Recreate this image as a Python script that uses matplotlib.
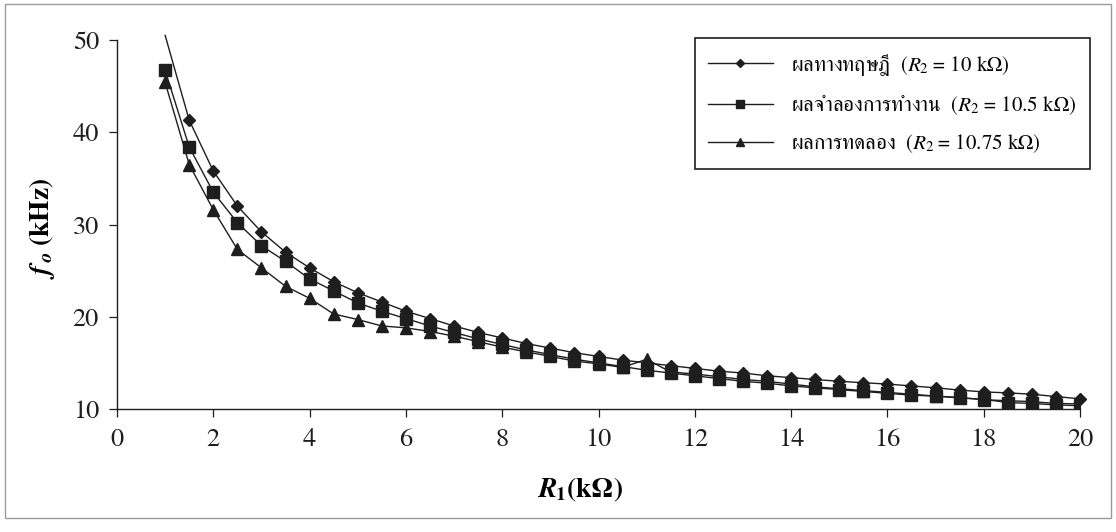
import matplotlib
matplotlib.use("Agg")
import matplotlib.pyplot as plt
from matplotlib.patches import Rectangle

# R1 values (kOhm)
r1 = [1.0, 1.5, 2.0, 2.5, 3.0, 3.5, 4.0, 4.5, 5.0, 5.5, 6.0, 6.5, 7.0, 7.5,
      8.0, 8.5, 9.0, 9.5, 10.0, 10.5, 11.0, 11.5, 12.0, 12.5, 13.0, 13.5,
      14.0, 14.5, 15.0, 15.5, 16.0, 16.5, 17.0, 17.5, 18.0, 18.5, 19.0,
      19.5, 20.0]

# f0 (kHz)
f_theory = [50.5, 41.3, 35.8, 32.0, 29.2, 27.0, 25.3, 23.8, 22.6, 21.6,
            20.6, 19.8, 19.0, 18.3, 17.7, 17.1, 16.6, 16.1, 15.7, 15.3,
            15.0, 14.7, 14.4, 14.1, 13.9, 13.6, 13.4, 13.2, 13.0, 12.85,
            12.7, 12.5, 12.3, 12.05, 11.85, 11.75, 11.6, 11.35, 11.1]
f_sim = [46.7, 38.4, 33.5, 30.2, 27.7, 26.0, 24.1, 22.8, 21.5, 20.6,
         19.8, 19.0, 18.3, 17.6, 17.0, 16.4, 15.9, 15.4, 15.0, 14.6,
         14.2, 13.9, 13.6, 13.3, 13.0, 12.8, 12.5, 12.3, 12.1, 11.9,
         11.7, 11.5, 11.4, 11.2, 11.05, 10.7, 10.6, 10.45, 10.35]
f_exp = [45.4, 36.5, 31.6, 27.3, 25.3, 23.3, 22.0, 20.3, 19.7, 19.0,
         18.8, 18.4, 17.9, 17.3, 16.7, 16.2, 15.7, 15.2, 14.9, 14.5,
         15.4, 14.0, 13.8, 13.5, 13.2, 13.0, 12.7, 12.4, 12.2, 12.0,
         11.8, 11.6, 11.4, 11.25, 11.0, 10.9, 10.8, 10.6, 10.55]

labels = ["ผลทางทฤษฎี  ($R_2$ = 10 kΩ)",
          "ผลจำลองการทำงาน  ($R_2$ = 10.5 kΩ)",
          "ผลการทดลอง  ($R_2$ = 10.75 kΩ)"]

# FreeSerif is Times-like and has the Thai glyphs
plt.rcParams["font.family"] = ["FreeSerif", "Liberation Serif", "DejaVu Sans"]
plt.rcParams["mathtext.fontset"] = "custom"
plt.rcParams["mathtext.rm"] = "FreeSerif"
plt.rcParams["mathtext.it"] = "FreeSerif:italic"
plt.rcParams["mathtext.bf"] = "FreeSerif:bold"
plt.rcParams["mathtext.bfit"] = "FreeSerif:italic:bold"

ink = "#1e1e1e"
fig = plt.figure(figsize=(11.16, 5.32), dpi=100)
ax = fig.add_axes([117 / 1116, 1 - 409 / 532, 963 / 1116, 369 / 532])

style = dict(color=ink, lw=1.0, markerfacecolor=ink, markeredgecolor=ink)
ax.plot(r1, f_theory, marker="D", ms=6.5, markevery=slice(1, None),
        clip_on=False, label=labels[0], **style)
ax.plot(r1, f_sim, marker="s", ms=8, label=labels[1], **style)
ax.plot(r1, f_exp, marker="^", ms=8.5, label=labels[2], **style)

ax.set_xlim(0, 20)
ax.set_ylim(10, 50)
ax.set_xticks(range(0, 21, 2))
ax.set_yticks(range(10, 51, 10))
ax.tick_params(direction="out", length=6, width=0.9, colors=ink,
               labelsize=19)
ax.tick_params(axis="x", pad=8)
ax.tick_params(axis="y", pad=7)
for s in ("top", "right"):
    ax.spines[s].set_visible(False)
for s in ("left", "bottom"):
    ax.spines[s].set_color(ink)
    ax.spines[s].set_linewidth(1.0)

ax.set_xlabel(r"$\mathbfit{R}_\mathbf{1}$(kΩ)", fontsize=20,
              fontweight="bold")
ax.set_ylabel(r"$\mathbfit{f_o}$ (kHz)", fontsize=20,
              fontweight="bold")
ax.xaxis.set_label_coords((580 - 117) / 963, -(476 - 409) / 369)
ax.yaxis.set_label_coords(-(117 - 57) / 963, 0.49)

leg = ax.legend(loc="upper right", bbox_to_anchor=(1090 / 1116, 1 - 38 / 532),
                bbox_transform=fig.transFigure, borderaxespad=0,
                fontsize=15, markerscale=0.7, handlelength=3.1,
                handletextpad=0.9, labelspacing=0.75, borderpad=0.65,
                fancybox=False, framealpha=1)
leg.get_frame().set_edgecolor(ink)
leg.get_frame().set_linewidth(1.2)

# scanned frame around the chart
fig.patches.append(Rectangle((5 / 1116, 14 / 532), 1106 / 1116, 514 / 532,
                             transform=fig.transFigure, fill=False,
                             edgecolor="#9a9a9a", lw=1.0))

fig.savefig("out.png", dpi=100)
